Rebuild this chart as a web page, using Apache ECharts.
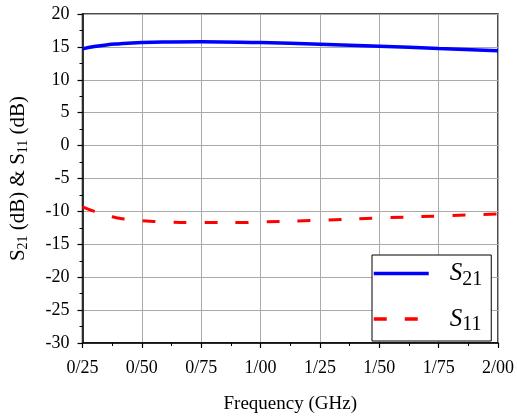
<!DOCTYPE html>
<html>
<head>
<meta charset="utf-8">
<script src="https://cdn.jsdelivr.net/npm/echarts@6/dist/echarts.min.js"></script>
<style>
  html, body { margin: 0; padding: 0; background: #fff; }
  #chart1 { width: 517px; height: 419px; }
</style>
</head>
<body>
<div id="chart1"></div>
<script>
// frequency (GHz)
var freqS21 = [0.25, 0.30, 0.35, 0.40, 0.50, 0.60, 0.75, 1.00, 1.25, 1.50, 1.75, 2.00];
var valS21 = [14.7, 15.05, 15.3, 15.45, 15.65, 15.75, 15.8, 15.65, 15.4, 15.1, 14.75, 14.4];

var freqS11 = [0.25, 0.30, 0.35, 0.40, 0.45, 0.50, 0.60, 0.75, 0.90, 1.00, 1.25, 1.50, 1.75, 2.00];
var valS11 = [-9.3, -10.0, -10.6, -11.0, -11.25, -11.4, -11.6, -11.7, -11.7, -11.6, -11.35, -11.0, -10.7, -10.4];

var xTicks = [0.25, 0.50, 0.75, 1.00, 1.25, 1.50, 1.75, 2.00];
var xTickLabels = ['0/25', '0/50', '0/75', '1/00', '1/25', '1/50', '1/75', '2/00'];

function pairs(xs, ys) {
  return xs.map(function (x, i) { return [x, ys[i]]; });
}

var FONT = '"Liberation Serif", "DejaVu Serif", serif';

var dom = document.getElementById('chart1');
var myChart = echarts.init(dom, null, { renderer: 'canvas' });

var option = {
  animation: false,
  grid: {
    left: 82, right: 19, top: 14, bottom: 72,
    show: true,
    borderColor: '#111',
    borderWidth: 1.5
  },
  legend: {
    orient: 'vertical',
    left: 372,
    top: 255,
    padding: [6, 9, 6, 0],
    itemWidth: 55,
    itemHeight: 14,
    itemGap: 17,
    backgroundColor: '#fff',
    borderColor: '#000',
    borderWidth: 1,
    borderRadius: 0,
    itemStyle: { opacity: 0 },
    lineStyle: { width: 3.5 },
    data: ['S21', 'S11'],
    formatter: function (name) {
      return '{s|S}{sub|' + name.slice(1) + '}';
    },
    textStyle: {
      fontFamily: FONT,
      padding: [0, 0, 0, 16],
      rich: {
        s: { fontFamily: FONT, fontStyle: 'italic', fontSize: 25, color: '#000' },
        sub: { fontFamily: FONT, fontSize: 20, color: '#000', padding: [12, 0, 0, 0] }
      }
    }
  },
  xAxis: {
    type: 'value',
    min: 0.25,
    max: 2.0,
    interval: 0.25,
    name: 'Frequency (GHz)',
    nameLocation: 'middle',
    nameGap: 52,
    nameTextStyle: { fontFamily: FONT, fontSize: 19, color: '#000' },
    axisLine: { onZero: false, lineStyle: { color: '#000', width: 1.5 } },
    axisTick: { show: true, inside: false, length: 5, lineStyle: { color: '#000', width: 1.2 } },
    minorTick: { show: true, splitNumber: 2, length: 3, lineStyle: { color: '#000', width: 1 } },
    axisLabel: {
      fontFamily: FONT, fontSize: 18, color: '#000', margin: 16,
      formatter: function (v) {
        var i = xTicks.findIndex(function (t) { return Math.abs(t - v) < 1e-6; });
        return i >= 0 ? xTickLabels[i] : '';
      }
    },
    splitLine: { show: true, lineStyle: { color: '#aaa', width: 1 } }
  },
  yAxis: {
    type: 'value',
    min: -30,
    max: 20,
    interval: 5,
    name: '{n|S}{sub|21}{n| (dB) & S}{sub|11}{n| (dB)}',
    nameLocation: 'middle',
    nameGap: 52,
    nameTextStyle: {
      fontFamily: FONT, fontSize: 21, color: '#000',
      rich: {
        n: { fontFamily: FONT, fontSize: 21, color: '#000' },
        sub: { fontFamily: FONT, fontSize: 14, color: '#000', padding: [10, 0, 0, 0] }
      }
    },
    axisLine: { show: true, lineStyle: { color: '#000', width: 1.5 } },
    axisTick: { show: true, inside: false, length: 5, lineStyle: { color: '#000', width: 1.2 } },
    minorTick: { show: true, splitNumber: 2, length: 3, lineStyle: { color: '#000', width: 1 } },
    axisLabel: { fontFamily: FONT, fontSize: 18, color: '#000', margin: 13 },
    splitLine: { show: true, lineStyle: { color: '#aaa', width: 1 } }
  },
  series: [
    {
      name: 'S21',
      type: 'line',
      smooth: true,
      symbol: 'none',
      color: '#0000ff',
      lineStyle: { color: '#0000ff', width: 3.5 },
      data: pairs(freqS21, valS21)
    },
    {
      name: 'S11',
      type: 'line',
      smooth: true,
      symbol: 'none',
      color: '#ff0000',
      lineStyle: { color: '#ff0000', width: 3, type: [13, 18] },
      data: pairs(freqS11, valS11)
    }
  ]
};

myChart.setOption(option);
window.addEventListener('resize', myChart.resize);
</script>
</body>
</html>
